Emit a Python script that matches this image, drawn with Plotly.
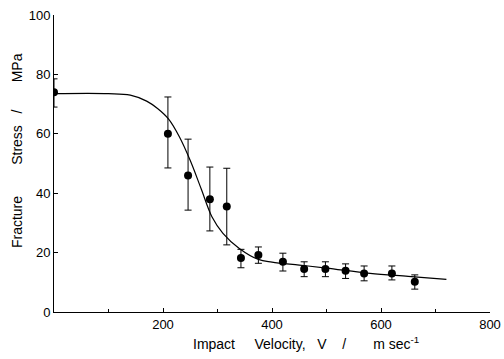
import plotly.graph_objects as go

# data points (impact velocity m/s, fracture stress MPa)
velocity = [0, 209, 246, 286, 317, 343, 375, 420, 459, 498, 535, 569, 620, 662]
stress = [74, 60, 46, 38, 35.5, 18.2, 19.2, 16.9, 14.5, 14.5, 13.9, 13.0, 13.0, 10.2]
err_hi = [78.5, 72.4, 58.2, 48.8, 48.4, 21.1, 21.9, 19.8, 16.9, 16.9, 16.2, 15.5, 15.5, 12.5]
err_lo = [69, 48.5, 34.3, 27.3, 22.6, 14.9, 16.4, 13.8, 11.9, 11.9, 11.3, 10.5, 10.8, 7.7]

# fitted curve
curve_v = [0, 100, 140, 170, 190, 210, 230, 250, 270, 290, 310, 340, 375, 400, 450, 500, 580, 650, 720]
curve_s = [73.5, 73.5, 73, 71, 68.5, 65, 59, 51, 41.5, 32, 26.5, 21.4, 17.7, 16.8, 15.8, 14.8, 13, 12, 11]

x_ticks = [200, 400, 600, 800]
x_minor = [0, 100, 300, 500, 700]
y_ticks = [0, 20, 40, 60, 80, 100]

font = "Liberation Sans, Arial, sans-serif"
sp = "\u00a0"

fig = go.Figure()
fig.add_trace(go.Scatter(
    x=curve_v, y=curve_s, mode="lines", line=dict(color="black", width=1.2, shape="spline"),
    hoverinfo="skip", showlegend=False))
fig.add_trace(go.Scatter(
    x=velocity, y=stress, mode="markers",
    marker=dict(color="black", size=8),
    error_y=dict(type="data", symmetric=False,
                 array=[h - s for h, s in zip(err_hi, stress)],
                 arrayminus=[s - l for s, l in zip(stress, err_lo)],
                 color="black", thickness=1, width=3.5),
    showlegend=False))

fig.update_layout(
    width=504, height=359,
    margin=dict(l=54, r=14, t=15, b=47),
    paper_bgcolor="white", plot_bgcolor="white",
    font=dict(family=font, size=13, color="black"),
    xaxis=dict(range=[0, 800], tickvals=x_ticks, automargin=False,
               ticks="inside", ticklen=4, tickcolor="black",
               minor=dict(tickvals=x_minor, ticks="inside", ticklen=3, tickcolor="black"),
               showline=True, linecolor="black", linewidth=1, showgrid=False, zeroline=False),
    yaxis=dict(range=[0, 100], tickvals=y_ticks, automargin=False, ticks="inside", ticklen=4,
               tickcolor="black",
               showline=True, linecolor="black", linewidth=1, showgrid=False, zeroline=False),
    annotations=[
        dict(text="Impact" + sp * 5 + "Velocity," + sp * 3 + "V" + sp * 4 + "/" + sp * 7
                  + "m" + sp + "sec<sup>-1</sup>",
             xref="paper", yref="paper", x=0.578, y=-0.104, xanchor="center", yanchor="middle",
             showarrow=False, font=dict(family=font, size=14)),
        dict(text="Fracture" + sp * 8 + "Stress" + sp * 3 + "/" + sp * 7 + "MPa", textangle=-90,
             xref="paper", yref="paper", x=-0.085, y=0.545, xanchor="center", yanchor="middle",
             showarrow=False, font=dict(family=font, size=14)),
    ],
)

fig.write_html("out.html", config={"displayModeBar": False},
               post_script="document.body.style.margin='0';document.body.style.overflow='hidden';")
